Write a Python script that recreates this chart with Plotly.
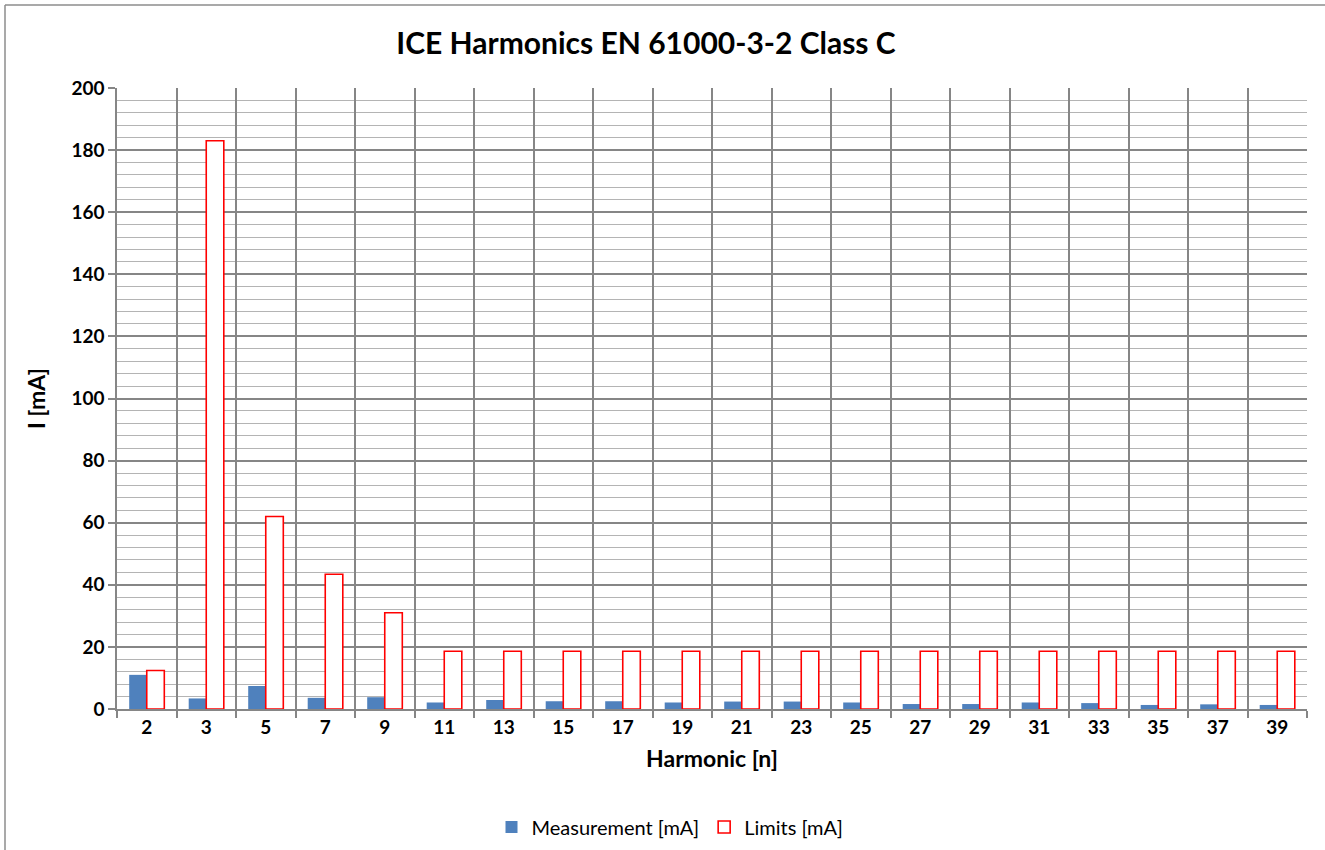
import plotly.graph_objects as go

harmonics = ["2", "3", "5", "7", "9", "11", "13", "15", "17", "19",
             "21", "23", "25", "27", "29", "31", "33", "35", "37", "39"]
measurement_mA = [11.0, 3.4, 7.4, 3.6, 3.8, 2.1, 2.9, 2.5, 2.5, 2.1,
                  2.4, 2.4, 2.1, 1.6, 1.6, 2.1, 1.9, 1.3, 1.5, 1.3]
limits_mA = [12.4, 183.0, 62.0, 43.4, 31.0, 18.6, 18.6, 18.6, 18.6, 18.6,
             18.6, 18.6, 18.6, 18.6, 18.6, 18.6, 18.6, 18.6, 18.6, 18.6]

FONT = "Lato"
W, H = 1325, 850
L, R, T, B = 117, 1307, 88, 709

fig = go.Figure()
fig.add_trace(go.Bar(
    x=harmonics, y=measurement_mA, name="Measurement [mA]",
    marker=dict(color="#4F81BD", line=dict(width=0)),
))
fig.add_trace(go.Bar(
    x=harmonics, y=limits_mA, name="Limits [mA]",
    marker=dict(color="white", line=dict(color="#FF0000", width=1.6)),
))

pw = R - L
ph = B - T
bx = (5 - L) / pw
by = (B - 5) / ph
border = dict(color="#8c8c8c", width=1.5)
fig.add_shape(type="line", xref="paper", yref="paper",
              x0=bx, x1=(W - L) / pw, y0=by, y1=by, line=border, layer="below")
fig.add_shape(type="line", xref="paper", yref="paper",
              x0=bx, x1=bx, y0=by, y1=(B - H) / ph, line=border, layer="below")

fig.update_layout(
    width=W, height=H,
    margin=dict(l=L, r=W - R, t=T, b=H - B, autoexpand=False),
    paper_bgcolor="white", plot_bgcolor="white",
    font=dict(family=FONT, color="black"),
    barmode="group", bargap=0.41, bargroupgap=0,
    title=dict(text="<b>ICE Harmonics EN 61000-3-2 Class C</b>",
               font=dict(size=30, family=FONT, color="black"),
               x=646 / W, xref="container", xanchor="center",
               y=1 - 43 / H, yref="container", yanchor="middle"),
    legend=dict(orientation="h", x=(670 - L) / pw, xanchor="center",
                y=(B - 827) / ph, yanchor="middle",
                font=dict(size=20, family=FONT, color="black"),
                itemwidth=30, traceorder="normal"),
    xaxis=dict(
        type="category", tickson="boundaries",
        ticks="outside", ticklen=7, tickcolor="#868686", tickwidth=1.5,
        showgrid=True, gridcolor="#868686", gridwidth=1.5,
        showline=True, linecolor="#868686", linewidth=1.5,
        tickfont=dict(size=19, family=FONT, color="black", weight="bold"),
        title=dict(text="<b>Harmonic [n]</b>", font=dict(size=23, family=FONT, color="black"),
                   standoff=14),
    ),
    yaxis=dict(
        range=[0, 200], dtick=20, tick0=0,
        ticks="outside", ticklen=7, tickcolor="#868686", tickwidth=1.5,
        showgrid=True, gridcolor="#868686", gridwidth=1.5,
        showline=True, linecolor="#868686", linewidth=1.5,
        zeroline=False,
        minor=dict(dtick=4, showgrid=True, gridcolor="#b4b4b4", gridwidth=1.2, ticks=""),
        tickfont=dict(size=19, family=FONT, color="black", weight="bold"),
        title=dict(text="<b>I [mA]</b>", font=dict(size=23, family=FONT, color="black"),
                   standoff=19),
    ),
)

fig.write_html("out.html", config={"displayModeBar": False},
               post_script="document.body.style.margin='0';document.body.style.overflow='hidden';"
                           "document.documentElement.style.overflow='hidden';")
